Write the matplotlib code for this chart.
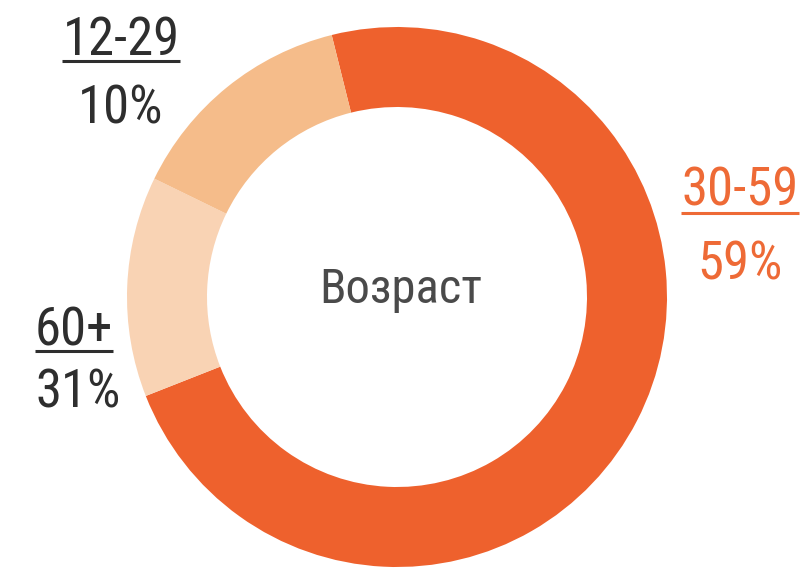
import matplotlib

matplotlib.use("Agg")
import matplotlib.pyplot as plt

# Age groups as labelled in the chart
labels = ["30-59", "60+", "12-29"]
pct_labels = ["59%", "31%", "10%"]
# Arc sizes as drawn in the picture (degrees of the ring)
arc_deg = [262.5, 47.5, 50.0]
colours = ["#EE612D", "#F9D3B4", "#F5BC8A"]
centre_label = "Возраст"

FONT = ["Roboto Condensed", "DejaVu Sans"]
DARK = "#2E2E2E"

W, H = 805, 571
fig = plt.figure(figsize=(W / 100, H / 100), dpi=100)
ax = fig.add_axes([0, 0, 1, 1])
ax.axis("off")

# ring in pixel units: centre (397, 297 from top), outer radius 270
ax.pie(arc_deg, colors=colours, radius=270, center=(397, H - 297),
       startangle=104, counterclock=False,
       wedgeprops=dict(width=80, linewidth=0))
ax.set_xlim(0, W)
ax.set_ylim(0, H)
ax.set_aspect("equal")

ax.text(401, H - 303, centre_label, ha="center", va="baseline",
        fontsize=35, color="#4A4A4A", family=FONT, stretch="condensed")

# label blocks: (x, ha, name baseline, underline y, pct baseline, colour)
blocks = [
    (740, "center", 205, 213, 280, "#EE6A36"),
    (35, "left", 345, 351, 407, DARK),
    (121, "center", 55, 61, 123, DARK),
]

fig.canvas.draw()
renderer = fig.canvas.get_renderer()
for (x, ha, yb, yu, yp, col), name, pct in zip(blocks, labels, pct_labels):
    t = ax.text(x, H - yb, name, ha=ha, va="baseline", fontsize=38,
                color=col, family=FONT, stretch="condensed")
    ax.text(x, H - yp, pct, ha=ha, va="baseline", fontsize=38,
            color=col, family=FONT, stretch="condensed")
    bb = t.get_window_extent(renderer).transformed(ax.transData.inverted())
    ax.plot([bb.x0, bb.x1], [H - yu, H - yu], color=col, lw=2.2,
            solid_capstyle="butt")

fig.savefig("out.png", dpi=100)
